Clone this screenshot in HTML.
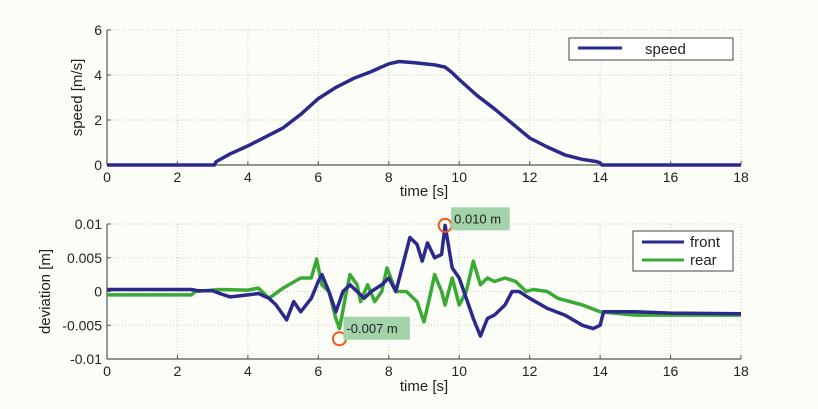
<!DOCTYPE html>
<html><head><meta charset="utf-8"><style>
html,body{margin:0;padding:0;background:#fdfdf8;}
svg{display:block;font-family:"Liberation Sans",sans-serif;}
</style></head><body>
<svg id="chart" width="818" height="409" viewBox="0 0 818 409"></svg>
<script>
const timeTicks=[0,2,4,6,8,10,12,14,16,18];
const speedTicks=[0,2,4,6];
const devTicks=[-0.01,-0.005,0,0.005,0.01];
const devTickLabels=["-0.01","-0.005","0","0.005","0.01"];
const speedT=[0,3.05,3.1,3.5,4,4.5,5,5.5,6,6.5,7,7.5,8,8.3,8.7,9,9.3,9.6,9.8,10,10.5,11,11.5,12,12.5,13,13.5,13.9,14.0,14.05,15,18];
const speedV=[0,0,0.15,0.5,0.85,1.25,1.65,2.25,2.95,3.45,3.85,4.15,4.5,4.6,4.55,4.5,4.45,4.35,4.1,3.8,3.1,2.5,1.85,1.2,0.8,0.45,0.25,0.15,0.1,0,0,0];
const frontT=[0,2.4,2.6,3,3.2,3.5,4,4.3,4.6,4.8,5.1,5.3,5.5,5.8,6,6.1,6.3,6.5,6.7,6.9,7.1,7.3,7.5,7.8,8,8.2,8.4,8.6,8.8,8.95,9.1,9.3,9.5,9.6,9.8,10,10.2,10.4,10.6,10.8,11,11.3,11.5,11.7,12,12.5,13,13.5,13.8,14,14.1,15,16,18];
const frontV=[0.0003,0.0003,0.0001,0.0001,-0.0003,-0.0008,-0.0005,-0.0003,-0.001,-0.002,-0.0042,-0.0015,-0.003,-0.001,0.0015,0.0025,0,-0.003,0,0.001,0,-0.001,0,0.001,0.002,0,0.004,0.008,0.007,0.0045,0.0072,0.005,0.0055,0.0098,0.0035,0.002,-0.001,-0.004,-0.0066,-0.004,-0.0035,-0.002,0,0,-0.001,-0.0025,-0.0035,-0.005,-0.0055,-0.005,-0.003,-0.003,-0.0032,-0.0033];
const rearT=[0,2.4,2.5,3.2,4,4.3,4.6,5,5.5,5.8,5.95,6.1,6.3,6.5,6.6,6.8,6.9,7.1,7.2,7.4,7.6,7.8,7.95,8.2,8.5,8.8,9,9.2,9.3,9.5,9.6,9.8,10,10.2,10.4,10.6,10.8,11,11.3,11.6,11.9,12.1,12.5,12.8,13.5,14,15,16,18];
const rearV=[-0.0005,-0.0005,0,0.0003,0.0002,0.0005,-0.001,0.0005,0.002,0.002,0.0048,0.001,0,-0.004,-0.0055,0,0.0025,0.001,-0.0015,0.001,-0.0015,0,0.0035,0,0,-0.0015,-0.0045,0,0.0025,0,-0.002,0.002,-0.002,0,0.0045,0.001,0.002,0.0015,0.002,0.0015,0,0.0003,0,-0.001,-0.002,-0.003,-0.0035,-0.0035,-0.0035];
const peaks=[{t:9.6,v:0.0098,label:"0.010 m",dx:6,dy:-18},{t:6.6,v:-0.007,label:"-0.007 m",dx:4,dy:-22}];

const NS="http://www.w3.org/2000/svg";
const svg=document.getElementById('chart');
function mk(tag,attrs,parent){const e=document.createElementNS(NS,tag);for(const k in attrs)e.setAttribute(k,attrs[k]);(parent||svg).appendChild(e);return e;}
const X0=107,X1=741;
function xs(t){return X0+(t-0)/(18-0)*(X1-X0);}
function panel(top,bot,ymin,ymax,name){
  const g=mk('g',{});
  
  
  const ys=v=>bot-(v-ymin)/(ymax-ymin)*(bot-top);
  return {g,ys};
}
function axes(p,top,bot,yt,ylab,ylabel,xlabY,ylabX){
  const g=p.g;
  yt.forEach((v,i)=>{const y=p.ys(v);
    const gl=mk('line',{x1:X0,x2:X1,y1:y,y2:y,stroke:'#ccc','stroke-dasharray':'1,2','stroke-width':1},g);
    
    mk('line',{x1:X0,x2:X0+4,y1:y,y2:y,stroke:'#555'},g);
    const t=mk('text',{x:X0-5,y:y+5,'text-anchor':'end','font-size':14,fill:'#222'},g);t.textContent=ylab[i];
    
  });
  timeTicks.forEach(v=>{const x=xs(v);
    const gl=mk('line',{x1:x,x2:x,y1:top,y2:bot,stroke:'#ccc','stroke-dasharray':'1,2','stroke-width':1},g);
    
    mk('line',{x1:x,x2:x,y1:bot,y2:bot-4,stroke:'#555'},g);
    const t=mk('text',{x:x,y:bot+17,'text-anchor':'middle','font-size':14,fill:'#222'},g);t.textContent=v;
    
  });
  mk('line',{x1:X0,x2:X0,y1:top,y2:bot,stroke:'#555','stroke-width':1.2},g);
  mk('line',{x1:X0,x2:X1,y1:bot,y2:bot,stroke:'#555','stroke-width':1.2},g);
  const xl=mk('text',{x:424,y:xlabY,'text-anchor':'middle','font-size':15,fill:'#222'},g);xl.textContent='time [s]';
  
  const cy=(top+bot)/2;
  const yl=mk('text',{x:ylabX,y:cy,'text-anchor':'middle','font-size':15,fill:'#222',transform:`rotate(-90 ${ylabX} ${cy})`},g);yl.textContent=ylabel;
  
}
function line(p,T,V,color,name){
  const d=T.map((t,i)=>(i?'L':'M')+xs(t).toFixed(1)+','+p.ys(V[i]).toFixed(1)).join('');
  const e=mk('path',{d:d,fill:'none',stroke:color,'stroke-width':3.5,'stroke-linejoin':'round'},p.g);
  
}
const p1=panel(30,165,0,6,'speed-panel');
axes(p1,30,165,speedTicks,speedTicks.map(String),'speed  [m/s]',196,82);
line(p1,speedT,speedV,'#2b2a8c','speed-line');
const lg1=mk('g',{});

mk('rect',{x:569,y:38,width:164,height:22,fill:'#fff',stroke:'#444'},lg1);
mk('line',{x1:578,x2:622,y1:48,y2:48,stroke:'#2b2a8c','stroke-width':3},lg1);
const lt=mk('text',{x:645,y:54,'font-size':15,fill:'#222'},lg1);lt.textContent='speed';
const p2=panel(224,359,-0.01,0.01,'deviation-panel');
axes(p2,224,359,devTicks,devTickLabels,'deviation [m]',391,50);
line(p2,rearT,rearV,'#3aaa35','rear-line');
line(p2,frontT,frontV,'#2b2a8c','front-line');
peaks.forEach(pk=>{
  const cx=xs(pk.t),cy=p2.ys(pk.v);
  const c=mk('circle',{cx:cx,cy:cy,r:6.5,fill:'none',stroke:'#f05a14','stroke-width':2},p2.g);
  
  const r=mk('rect',{x:cx+pk.dx,y:cy+pk.dy,width:pk.label.length*7.8+4,height:23,fill:'#a3d3a8'},p2.g);
  
  const t=mk('text',{x:cx+pk.dx+3,y:cy+pk.dy+16,'font-size':13,fill:'#222'},p2.g);t.textContent=pk.label;
  
});
const lg2=mk('g',{});

mk('rect',{x:633,y:231,width:100,height:40,fill:'#fff',stroke:'#444'},lg2);
mk('line',{x1:642,x2:684,y1:242,y2:242,stroke:'#2b2a8c','stroke-width':3},lg2);
mk('line',{x1:642,x2:684,y1:260,y2:260,stroke:'#3aaa35','stroke-width':3},lg2);
const f=mk('text',{x:690,y:247,'font-size':15,fill:'#222'},lg2);f.textContent='front';
const rr=mk('text',{x:690,y:265,'font-size':15,fill:'#222'},lg2);rr.textContent='rear';
</script>
</body></html>
